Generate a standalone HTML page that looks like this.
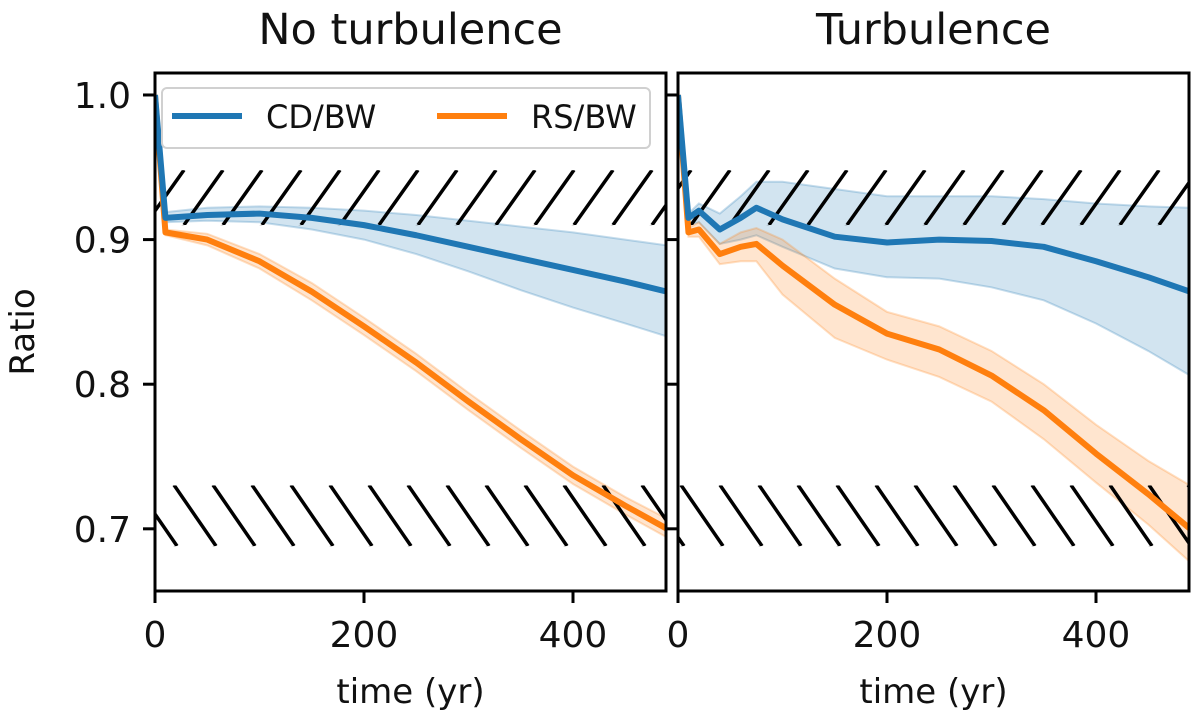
<!DOCTYPE html>
<html><head><meta charset="utf-8"><style>
body{margin:0;background:#fff}
svg text{font-family:"DejaVu Sans","Liberation Sans",sans-serif;fill:#111}
</style></head><body>
<svg id="chart" width="1200" height="719" viewBox="0 0 1200 719" xmlns="http://www.w3.org/2000/svg">
<defs>
<pattern id="hatchUp" patternUnits="userSpaceOnUse" width="39" height="55" x="155" y="170">
<line x1="-10" y1="55" x2="29" y2="0" stroke="#000" stroke-width="3.5"/>
<line x1="29" y1="55" x2="68" y2="0" stroke="#000" stroke-width="3.5"/>
</pattern>
<pattern id="hatchDown" patternUnits="userSpaceOnUse" width="39" height="61" x="155" y="485">
<line x1="-20" y1="0" x2="22" y2="61" stroke="#000" stroke-width="3.5"/>
<line x1="19" y1="0" x2="61" y2="61" stroke="#000" stroke-width="3.5"/>
</pattern>
</defs>
<g id="plots"></g>
</svg>
<script>
const panelTitles = ["No turbulence", "Turbulence"];
const yTicks = [0.7, 0.8, 0.9, 1.0];
const xTicks = [0, 200, 400];
const hatchUpper = [0.910, 0.948];
const hatchLower = [0.688, 0.730];
// Left panel (no turbulence)
const tA = [0, 10, 50, 100, 150, 200, 250, 300, 350, 400, 450, 490];
const cdA = [1.0, 0.915, 0.917, 0.918, 0.915, 0.910, 0.903, 0.895, 0.887, 0.879, 0.871, 0.864];
const cdAhi = [1.0, 0.919, 0.922, 0.923, 0.922, 0.920, 0.917, 0.913, 0.909, 0.905, 0.900, 0.896];
const cdAlo = [1.0, 0.912, 0.913, 0.912, 0.907, 0.900, 0.890, 0.878, 0.865, 0.853, 0.842, 0.833];
const rsA = [1.0, 0.905, 0.900, 0.885, 0.864, 0.840, 0.815, 0.788, 0.762, 0.737, 0.716, 0.700];
const rsAhi = [1.0, 0.907, 0.904, 0.890, 0.870, 0.846, 0.821, 0.794, 0.768, 0.743, 0.722, 0.707];
const rsAlo = [1.0, 0.903, 0.896, 0.880, 0.858, 0.834, 0.809, 0.782, 0.756, 0.731, 0.710, 0.694];
// Right panel (turbulence)
const tB = [0, 10, 20, 40, 60, 75, 100, 150, 200, 250, 300, 350, 400, 450, 490];
const cdB = [1.0, 0.915, 0.920, 0.907, 0.915, 0.922, 0.914, 0.902, 0.898, 0.900, 0.899, 0.895, 0.885, 0.874, 0.864];
const cdBhi = [1.0, 0.918, 0.925, 0.918, 0.930, 0.940, 0.940, 0.935, 0.930, 0.930, 0.930, 0.928, 0.925, 0.923, 0.922];
const cdBlo = [1.0, 0.910, 0.912, 0.897, 0.900, 0.903, 0.895, 0.880, 0.874, 0.873, 0.867, 0.858, 0.842, 0.823, 0.806];
const rsB = [1.0, 0.905, 0.907, 0.890, 0.895, 0.897, 0.882, 0.855, 0.835, 0.824, 0.806, 0.782, 0.752, 0.724, 0.700];
const rsBhi = [1.0, 0.908, 0.912, 0.897, 0.905, 0.908, 0.900, 0.873, 0.850, 0.840, 0.823, 0.800, 0.772, 0.747, 0.730];
const rsBlo = [1.0, 0.902, 0.902, 0.883, 0.885, 0.885, 0.862, 0.832, 0.817, 0.805, 0.788, 0.762, 0.732, 0.703, 0.677];

const NS = "http://www.w3.org/2000/svg";
const root = document.getElementById('plots');
const Y0 = 73, Y1 = 591, VMIN = 0.657, VMAX = 1.0152, TMAX = 489;
function yS(v){ return Y1 - (v - VMIN) / (VMAX - VMIN) * (Y1 - Y0); }
function mk(tag, attrs, parent){
  const e = document.createElementNS(NS, tag);
  for (const k in attrs) e.setAttribute(k, attrs[k]);
  (parent || root).appendChild(e);
  return e;
}
const panels = [
  {x0:155, x1:666, t:tA, cd:cdA, cdhi:cdAhi, cdlo:cdAlo, rs:rsA, rshi:rsAhi, rslo:rsAlo, ylab:true, legend:true},
  {x0:678, x1:1189, t:tB, cd:cdB, cdhi:cdBhi, cdlo:cdBlo, rs:rsB, rshi:rsBhi, rslo:rsBlo, ylab:false, legend:false}
];
panels.forEach((p, i) => {
  const xS = t => p.x0 + t / TMAX * (p.x1 - p.x0);
  const g = mk('g', {});
  
  
  const cp = mk('clipPath', {id:'clip' + i}, g);
  mk('rect', {x:p.x0, y:Y0, width:p.x1 - p.x0, height:Y1 - Y0}, cp);
  const inner = mk('g', {'clip-path':'url(#clip' + i + ')'}, g);
  function band(hi, lo, color, name){
    let d = hi.map((v, k) => (k ? 'L' : 'M') + xS(p.t[k]) + ',' + yS(v)).join('');
    for (let k = lo.length - 1; k >= 0; k--) d += 'L' + xS(p.t[k]) + ',' + yS(lo[k]);
    const e = mk('path', {d:d + 'Z', fill:color, 'fill-opacity':0.2, stroke:color, 'stroke-opacity':0.25, 'stroke-width':2}, inner);
    
    
  }
  function line(vals, color, name){
    const d = vals.map((v, k) => (k ? 'L' : 'M') + xS(p.t[k]) + ',' + yS(v)).join('');
    const e = mk('path', {d:d, fill:'none', stroke:color, 'stroke-width':6, 'stroke-linejoin':'round'}, inner);
    
    
  }
  band(p.cdhi, p.cdlo, '#1f77b4', 'cd-bw-band');
  band(p.rshi, p.rslo, '#ff7f0e', 'rs-bw-band');
  const hu = mk('rect', {x:p.x0, y:yS(hatchUpper[1]), width:p.x1 - p.x0, height:yS(hatchUpper[0]) - yS(hatchUpper[1]), fill:'url(#hatchUp)'}, inner);
  
  
  const hl = mk('rect', {x:p.x0, y:yS(hatchLower[1]), width:p.x1 - p.x0, height:yS(hatchLower[0]) - yS(hatchLower[1]), fill:'url(#hatchDown)'}, inner);
  
  
  line(p.rs, '#ff7f0e', 'rs-bw-line');
  line(p.cd, '#1f77b4', 'cd-bw-line');
  const fr = mk('rect', {x:p.x0, y:Y0, width:p.x1 - p.x0, height:Y1 - Y0, fill:'none', stroke:'#000', 'stroke-width':3}, g);
  
  
  yTicks.forEach(v => {
    mk('line', {x1:p.x0 - 12, x2:p.x0, y1:yS(v), y2:yS(v), stroke:'#000', 'stroke-width':3}, g);
    if (p.ylab) {
      const tx = mk('text', {x:p.x0 - 24, y:yS(v) + 13, 'text-anchor':'end', 'font-size':36}, g);
      tx.textContent = v.toFixed(1);
      
      
    }
  });
  xTicks.forEach(t => {
    mk('line', {x1:xS(t), x2:xS(t), y1:Y1, y2:Y1 + 12, stroke:'#000', 'stroke-width':3}, g);
    const tx = mk('text', {x:xS(t), y:Y1 + 30 + 26, 'text-anchor':'middle', 'font-size':36}, g);
    tx.textContent = t;
    
    
  });
  const xl = mk('text', {x:(p.x0 + p.x1) / 2, y:703, 'text-anchor':'middle', 'font-size':34}, g);
  xl.textContent = 'time (yr)';
  
  
  const tt = mk('text', {x:(p.x0 + p.x1) / 2, y:44, 'text-anchor':'middle', 'font-size':43}, g);
  tt.textContent = panelTitles[i];
  
  
  if (p.ylab) {
    const yl = mk('text', {x:0, y:0, 'text-anchor':'middle', 'font-size':34, transform:'translate(34,' + ((Y0 + Y1) / 2) + ') rotate(-90)'}, g);
    yl.textContent = 'Ratio';
    
    
  }
  if (p.legend) {
    const lg = mk('g', {}, g);
    
    
    mk('rect', {x:162, y:88, width:488, height:60, rx:5, fill:'#fff', 'fill-opacity':0.85, stroke:'#d0d0d0', 'stroke-width':2}, lg);
    mk('line', {x1:172, x2:242, y1:116, y2:116, stroke:'#1f77b4', 'stroke-width':6}, lg);
    const t1 = mk('text', {x:266, y:128, 'font-size':32}, lg);
    t1.textContent = 'CD/BW';
    
    
    mk('line', {x1:437, x2:507, y1:116, y2:116, stroke:'#ff7f0e', 'stroke-width':6}, lg);
    const t2 = mk('text', {x:531, y:128, 'font-size':32}, lg);
    t2.textContent = 'RS/BW';
    
    
  }
});
</script>
</body></html>
